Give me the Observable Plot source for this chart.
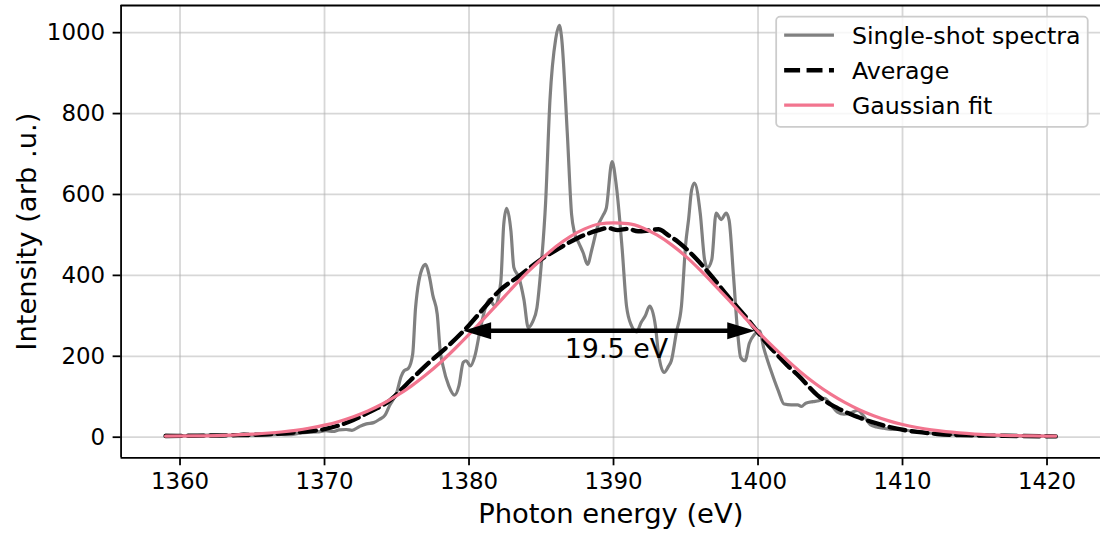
<!DOCTYPE html>
<html><head><meta charset="utf-8">
<script src="https://cdn.jsdelivr.net/npm/d3@7"></script>
<script src="https://cdn.jsdelivr.net/npm/@observablehq/plot@0.6"></script>
<style>
html,body{margin:0;padding:0;overflow:hidden;background:#fff;}
#chart{position:relative;width:1100px;height:535px;overflow:hidden;}
</style></head><body><div id="chart"></div>
<script>
// ---- data ----
const shotE = [1359.0,1360,1361,1362,1363,1364,1364.4,1365,1366,1367,1367.5,1368.3,1368.8,1369.5,1370.1,1370.6,1371,1371.5,1371.9,1372.4,1372.9,1373.4,1373.8,1374.2,1374.5,1375,1375.3,1375.5,1375.8,1376.1,1376.3,1376.8,1377,1377.25,1377.5,1377.8,1378.0,1378.2,1378.6,1379.0,1379.3,1379.6,1379.8,1380.1,1380.4,1380.8,1381.1,1381.4,1381.8,1382.2,1382.4,1382.6,1382.9,1383.1,1383.45,1383.8,1384.1,1384.4,1384.7,1384.95,1385.3,1385.6,1386.0,1386.25,1386.4,1386.8,1387.1,1387.3,1387.6,1387.9,1388.2,1388.5,1388.9,1389.3,1389.5,1389.9,1390.2,1390.6,1390.9,1391.25,1391.6,1391.9,1392.2,1392.5,1392.9,1393.1,1393.5,1393.8,1394.0,1394.35,1394.7,1395.0,1395.2,1395.4,1395.6,1396.0,1396.3,1396.5,1396.8,1397.1,1397.45,1397.8,1398.0,1398.3,1398.6,1398.8,1399.1,1399.4,1399.75,1400.1,1400.4,1400.9,1401.4,1401.8,1402.3,1402.75,1403.0,1403.3,1403.8,1404.2,1404.6,1405.0,1405.5,1405.95,1406.4,1406.9,1407.3,1407.8,1408.2,1408.7,1409.2,1409.6,1410.5,1411.5,1412.4,1413.5,1415,1416.5,1418,1419.5,1420.6];
const shotI = [5,4,4,5,4,6,9,5,5,7,6,10,12,13,16,14,18,19,17,26,33,36,44,55,78,111,150,164,170,205,320,420,427,398,350,304,215,176,127,104,127,185,189,176,200,271,316,340,324,385,525,566,510,420,395,340,271,285,320,406,580,833,985,1018,990,752,550,505,480,456,427,464,521,550,566,681,620,464,324,275,260,283,300,324,275,210,160,175,189,259,324,480,540,610,628,554,439,419,439,554,538,554,536,400,255,197,189,232,254,263,220,164,115,82,80,80,76,84,88,90,96,82,62,57,60,66,53,30,25,22,19,20,16,12,8,6,4,4,3,3,2];

const avgE = [1359,1362,1364,1366,1368,1370,1371.7,1373.1,1374.5,1375.9,1377.25,1378.6,1380,1381,1382.1,1383.45,1384.8,1386.2,1387.5,1388.9,1389.6,1390.3,1391,1391.7,1392.4,1393.1,1393.8,1394.5,1395.2,1396.6,1397.9,1399.3,1400,1400.7,1401.4,1402.1,1402.8,1404.1,1405.5,1406.9,1408.2,1409.6,1411,1412.4,1414,1416,1418,1420.6];
const avgI = [3,4,5,7,12,20,38,62,90,139,185,227,277,318,362,398,435,466,492,511,517,512,515,509,511,514,499,482,460,406,349,291,259,228,201,175,152,104,72,50,34,21,13,8,5,4,3,2];

const fitE = [1359,1361,1363,1365,1367,1368,1369,1370,1371,1372,1373,1374,1375,1376,1377,1378,1379,1380,1381,1382,1383,1384,1385,1386,1387,1388,1389,1390,1391,1392,1393,1394,1395,1396,1397,1398,1399,1400,1401,1402,1403,1404,1405,1406,1407,1408,1409,1410,1411,1412,1413,1415,1417,1419,1420.6];
const fitI = [2.5,3.1,4.5,7.4,12.8,17,22.6,29.8,39,50.6,64.8,82,102.5,126.3,153.6,184,218,254,292,330,369,406,440,471,496,515,527,530,528,518,500,476,447,413,376,338,299,261,225,191,159.5,131.5,107,86,68,53,41,31.5,24,18,13.6,7.8,4.7,3.2,2.6];

const xTicks = [1360,1370,1380,1390,1400,1410,1420];
const yTicks = [0,200,400,600,800,1000];
const seriesNames = ["Single-shot spectra","Average","Gaussian fit"];
const xLabel = "Photon energy (eV)";
const yLabel = "Intensity (arb .u.)";
const fwhm = {label: "19.5 eV", start: 1379.6, end: 1399.8, level: 263, labelE: 1390.2, labelI: 217};

// ---- build tables ----
const shot = shotE.map((e, i) => ({e, v: shotI[i]}));
const avg = avgE.map((e, i) => ({e, v: avgI[i]}));
const fit = fitE.map((e, i) => ({e, v: fitI[i]}));
const heads = [{e: fwhm.start, v: fwhm.level, rot: 180}, {e: fwhm.end, v: fwhm.level, rot: 0}];

const xDomain = [1355.92, 1423.7];
const yDomain = [-51, 1067.2];
const pink = "#f2758f";
const gray = "#808080";
const font = "'DejaVu Sans', sans-serif";

const arrowHead = {draw(ctx) { ctx.moveTo(0, 0); ctx.lineTo(-28, -8.5); ctx.lineTo(-28, 8.5); ctx.closePath(); }};

const plot = Plot.plot({
  width: 1104, height: 535,
  marginLeft: 121, marginRight: 0, marginTop: 5, marginBottom: 76,
  style: {fontFamily: font, background: "white", color: "black", overflow: "hidden"},
  x: {domain: xDomain},
  y: {domain: yDomain},
  marks: [
    Plot.ruleX(xTicks, {stroke: "#b0b0b0", strokeOpacity: 0.5, strokeWidth: 1.8}),
    Plot.ruleY(yTicks, {stroke: "#b0b0b0", strokeOpacity: 0.5, strokeWidth: 1.8}),
    Plot.line(shot, {x: "e", y: "v", stroke: gray, strokeWidth: 3.2, curve: "monotone-x"}),
    Plot.line(avg, {x: "e", y: "v", stroke: "black", strokeWidth: 4.4, strokeDasharray: "16,6.5", curve: "monotone-x"}),
    Plot.line(fit, {x: "e", y: "v", stroke: pink, strokeWidth: 3.2, curve: "monotone-x"}),
    Plot.ruleY([fwhm.level], {x1: fwhm.start, x2: fwhm.end, stroke: "black", strokeWidth: 4.4, insetLeft: 20, insetRight: 20}),
    Plot.dot(heads, {x: "e", y: "v", rotate: "rot", symbol: arrowHead, fill: "black", stroke: "none"}),
    Plot.text([fwhm], {x: "labelE", y: "labelI", text: "label", fontSize: 27, fill: "black", lineAnchor: "middle", textAnchor: "middle"}),
    Plot.ruleX([xDomain[0]], {stroke: "black", strokeWidth: 1.8}),
    Plot.ruleY([yDomain[0], yDomain[1]], {stroke: "black", strokeWidth: 1.8}),
    Plot.axisX(xTicks, {tickSize: 8, tickPadding: 7, fontSize: 23, strokeWidth: 1.8, label: null, tickFormat: d => String(d)}),
    Plot.axisY(yTicks, {tickSize: 8, tickPadding: 8, fontSize: 23, strokeWidth: 1.8, label: null, tickFormat: d => String(d)}),
    Plot.text([xLabel], {frameAnchor: "bottom", dy: 57, fontSize: 27.5, lineAnchor: "middle", textAnchor: "middle", fill: "black"}),
    Plot.text([yLabel], {frameAnchor: "left", rotate: -90, dx: -94, fontSize: 27.5, lineAnchor: "middle", textAnchor: "middle", fill: "black"})
  ]
});

// ---- legend ----
const svg = d3.select(plot);
const lg = svg.append("g").attr("font-family", font).attr("font-size", 23.8).attr("text-anchor", "start");
lg.append("rect").attr("x", 779).attr("y", 16.7).attr("width", 312.7).attr("height", 110.6)
  .attr("rx", 4).attr("fill", "white").attr("fill-opacity", 0.8).attr("stroke", "#cccccc").attr("stroke-width", 1.8);
const legendStyles = [
  {stroke: gray, width: 3.2, dash: null},
  {stroke: "black", width: 4.4, dash: "16,6.5"},
  {stroke: pink, width: 3.2, dash: null}
];
const lineYs = [35.3, 70.5, 105.5];
seriesNames.forEach((name, i) => {
  const s = legendStyles[i];
  const ln = lg.append("line").attr("x1", 787).attr("x2", 837).attr("y1", lineYs[i]).attr("y2", lineYs[i])
    .attr("stroke", s.stroke).attr("stroke-width", s.width);
  if (s.dash) ln.attr("stroke-dasharray", s.dash);
  lg.append("text").attr("x", 855).attr("y", lineYs[i] + 8.7).attr("fill", "black")
    .attr("text-anchor", "start").text(name);
});

document.getElementById("chart").appendChild(plot);
</script></body></html>
